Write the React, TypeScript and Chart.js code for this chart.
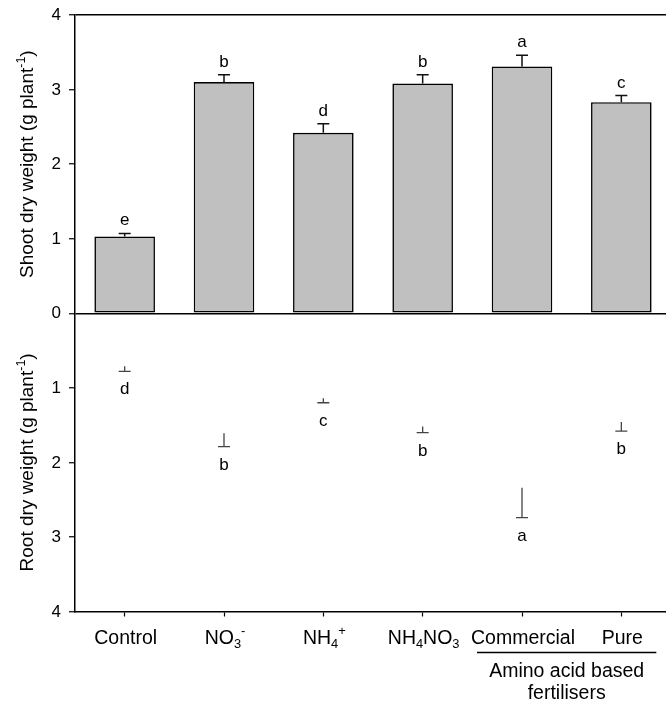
import React, { useEffect, useRef } from "react";
import { Chart, registerables } from "chart.js";

Chart.register(...registerables);

// ---------- data ----------
const categories = ["Control", "NO₃⁻", "NH₄⁺", "NH₄NO₃", "Commercial", "Pure"];
const shootMeans = [1.03, 3.1, 2.42, 3.08, 3.31, 2.83];
const shootErrors = [0.04, 0.1, 0.12, 0.12, 0.15, 0.09];
const shootLetters = ["e", "b", "d", "b", "a", "c"];
const rootMeans = [0.71, 1.61, 1.14, 1.52, 2.34, 1.46];
const rootErrors = [0.07, 0.18, 0.06, 0.08, 0.4, 0.12];
const rootLetters = ["d", "b", "c", "b", "a", "b"];
const axisMin = -4;
const axisMax = 4;
const shootTitle = "Shoot dry weight (g plant⁻¹)";
const rootTitle = "Root dry weight (g plant⁻¹)";
const groupMembers = ["Commercial", "Pure"];
const groupLabelLines = ["Amino acid based", "fertilisers"];

const FAMILY = "'Liberation Sans', Arial, Helvetica, sans-serif";
const CANVAS_W = 671;
const CANVAS_H = 702;

// ---------- rich text (sub/superscripts) ----------
const SUB: Record<string, string> = {
  "₀": "0", "₁": "1", "₂": "2", "₃": "3", "₄": "4", "₅": "5", "₆": "6", "₇": "7", "₈": "8", "₉": "9",
};
const SUP: Record<string, string> = {
  "⁻": "-", "⁺": "+", "¹": "1", "²": "2", "³": "3", "⁰": "0",
};
type Seg = { kind: "n" | "sub" | "sup"; text: string };
function segments(s: string): Seg[] {
  const out: Seg[] = [];
  for (const ch of s) {
    let kind: Seg["kind"] = "n";
    let c = ch;
    if (SUB[ch]) { kind = "sub"; c = SUB[ch]; }
    else if (SUP[ch]) { kind = "sup"; c = SUP[ch]; }
    const last = out[out.length - 1];
    if (last && last.kind === kind) last.text += c;
    else out.push({ kind, text: c });
  }
  return out;
}
function drawRich(ctx: CanvasRenderingContext2D, s: string, x: number, y: number, size: number) {
  const segs = segments(s);
  const small = size * 0.66;
  const fontFor = (k: Seg["kind"]) => `${k === "n" ? size : small}px ${FAMILY}`;
  let total = 0;
  const widths: number[] = [];
  for (const sg of segs) {
    ctx.font = fontFor(sg.kind);
    const w = ctx.measureText(sg.text).width;
    widths.push(w);
    total += w;
  }
  let cx = x - total / 2;
  ctx.textAlign = "left";
  ctx.textBaseline = "alphabetic";
  segs.forEach((sg, i) => {
    ctx.font = fontFor(sg.kind);
    let dy = 0;
    if (sg.kind === "sub") dy = size * 0.24;
    if (sg.kind === "sup") dy = -size * 0.42;
    ctx.fillText(sg.text, cx, y + dy);
    cx += widths[i];
  });
}

// ---------- plugin ----------
const decorPlugin = {
  id: "decor",
  afterDraw(chart: any) {
    const ctx: CanvasRenderingContext2D = chart.ctx;
    const xs = chart.scales.x;
    const ys = chart.scales.y;
    const area = chart.chartArea;
    ctx.save();
    ctx.fillStyle = "#000";

    // y tick labels
    ctx.font = `17px ${FAMILY}`;
    ctx.textAlign = "right";
    ctx.textBaseline = "middle";
    for (let v = axisMin; v <= axisMax; v++) {
      ctx.fillText(String(Math.abs(v)), area.left - 14, ys.getPixelForValue(v) + 0.5);
    }

    // shoot error bars + letters
    shootMeans.forEach((m, i) => {
      const x = xs.getPixelForValue(i);
      const y0 = ys.getPixelForValue(m);
      const y1 = ys.getPixelForValue(m + shootErrors[i]);
      ctx.strokeStyle = "#111";
      ctx.lineWidth = 1.5;
      ctx.beginPath();
      ctx.moveTo(x, y0);
      ctx.lineTo(x, y1);
      ctx.moveTo(x - 6, y1);
      ctx.lineTo(x + 6, y1);
      ctx.stroke();
      ctx.font = `17px ${FAMILY}`;
      ctx.textAlign = "center";
      ctx.textBaseline = "alphabetic";
      ctx.fillText(shootLetters[i], x, y1 - 8);
    });

    // root error bars + letters (panel drawn downward)
    rootMeans.forEach((m, i) => {
      const x = xs.getPixelForValue(i);
      const y0 = ys.getPixelForValue(-m);
      const y1 = ys.getPixelForValue(-(m + rootErrors[i]));
      ctx.strokeStyle = "#444";
      ctx.lineWidth = 1.3;
      ctx.beginPath();
      ctx.moveTo(x, y0);
      ctx.lineTo(x, y1);
      ctx.moveTo(x - 6, y1);
      ctx.lineTo(x + 6, y1);
      ctx.stroke();
      ctx.font = `17px ${FAMILY}`;
      ctx.textAlign = "center";
      ctx.textBaseline = "alphabetic";
      ctx.fillText(rootLetters[i], x, y1 + 23);
    });

    // category labels
    const labelY = area.bottom + 32;
    categories.forEach((c, i) => {
      drawRich(ctx, c, xs.getPixelForValue(i) + 1, labelY, 19.5);
    });

    // group label
    const gi0 = categories.indexOf(groupMembers[0]);
    const gi1 = categories.indexOf(groupMembers[1]);
    const gx0 = xs.getPixelForValue(gi0) - 45;
    const gx1 = xs.getPixelForValue(gi1) + 35;
    ctx.strokeStyle = "#000";
    ctx.lineWidth = 1.3;
    ctx.beginPath();
    ctx.moveTo(gx0, area.bottom + 41);
    ctx.lineTo(gx1, area.bottom + 41);
    ctx.stroke();
    const gcx = (gx0 + gx1) / 2;
    groupLabelLines.forEach((t, k) => {
      drawRich(ctx, t, gcx, area.bottom + 65.5 + k * 21.5, 19.5);
    });

    // axis titles
    const zero = ys.getPixelForValue(0);
    const titles: [string, number][] = [
      [shootTitle, (area.top + zero) / 2],
      [rootTitle, (zero + area.bottom) / 2],
    ];
    titles.forEach(([t, cy]) => {
      ctx.save();
      ctx.translate(33, cy);
      ctx.rotate(-Math.PI / 2);
      drawRich(ctx, t, 0, 0, 19);
      ctx.restore();
    });

    ctx.restore();
  },
};

export default function App() {
  const ref = useRef<HTMLCanvasElement>(null);
  useEffect(() => {
    const canvas = ref.current;
    if (!canvas) return;
    const chart = new Chart(canvas, {
      type: "bar",
      data: {
        labels: categories,
        datasets: [
          {
            label: "Shoot",
            data: shootMeans,
            backgroundColor: "#c0c0c0",
            borderColor: "#000",
            borderWidth: 1.6,
            borderSkipped: false,
            barPercentage: 0.61,
            categoryPercentage: 1,
            grouped: false,
          } as any,
          {
            label: "Root",
            data: rootMeans.map((v) => -v),
            backgroundColor: "rgba(255,255,255,0)",
            borderWidth: 0,
            barPercentage: 0.61,
            categoryPercentage: 1,
            grouped: false,
          } as any,
        ],
      },
      options: {
        responsive: false,
        animation: false,
        devicePixelRatio: 1,
        layout: { padding: { top: 15, left: 0, right: 0, bottom: 0 } },
        plugins: {
          legend: { display: false },
          tooltip: { enabled: false },
          title: { display: false },
        },
        scales: {
          x: {
            type: "category",
            grid: {
              display: true,
              offset: false,
              drawOnChartArea: false,
              drawTicks: true,
              tickLength: 5,
              tickColor: "#000",
              tickWidth: 1.2,
            },
            border: { display: true, color: "#000", width: 1.5 },
            ticks: { callback: () => "", padding: 0, autoSkip: false, maxRotation: 0 },
            afterFit: (s: any) => {
              s.height = CANVAS_H - 611.5;
            },
          },
          y: {
            type: "linear",
            min: axisMin,
            max: axisMax,
            ticks: {
              stepSize: 1,
              callback: () => "",
              padding: 0,
            },
            grid: {
              color: (c: any) =>
                c.tick && (c.tick.value === 0 || c.tick.value === axisMax) ? "#000" : "rgba(0,0,0,0)",
              lineWidth: 1.5,
              tickColor: "#000",
              tickLength: 6,
              tickWidth: 1.2,
            },
            border: { display: true, color: "#000", width: 1.5 },
            afterFit: (s: any) => {
              s.width = 75;
            },
          },
        },
      } as any,
      plugins: [decorPlugin],
    });
    return () => chart.destroy();
  }, []);

  return (
    <div
      style={{
        position: "fixed",
        left: 0,
        top: 0,
        width: 666,
        height: 702,
        overflow: "hidden",
        background: "#fff",
      }}
    >
      <canvas ref={ref} width={CANVAS_W} height={CANVAS_H} style={{ display: "block" }} />
    </div>
  );
}
